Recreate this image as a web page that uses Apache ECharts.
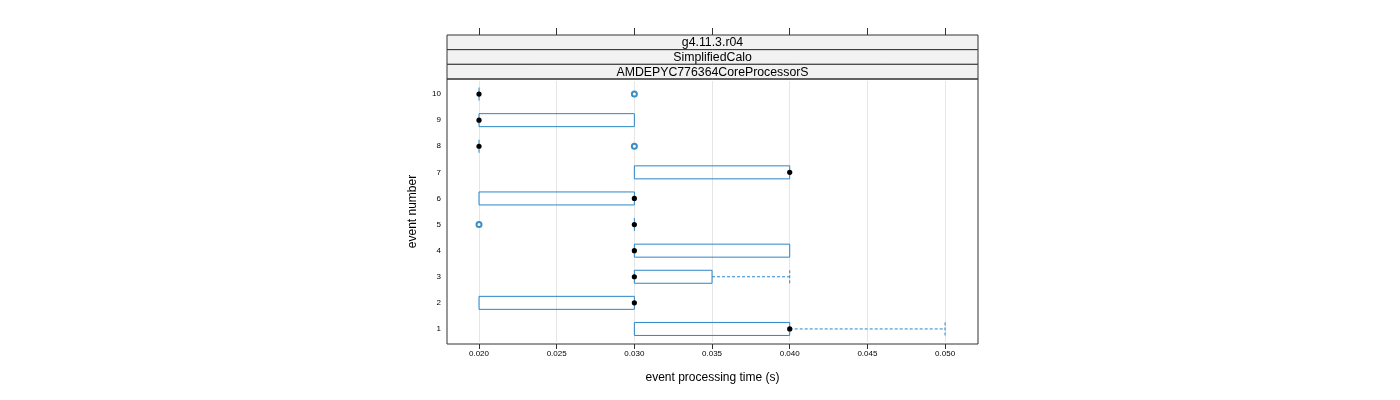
<!DOCTYPE html>
<html>
<head>
<meta charset="utf-8">
<script src="https://cdn.jsdelivr.net/npm/echarts@6/dist/echarts.min.js"></script>
<style>
  html, body { margin: 0; padding: 0; background: #fff; }
  #chart { width: 1400px; height: 400px; }
</style>
</head>
<body>
<div id="chart"></div>
<script>
    // event numbers on the y axis
    var events = ['1', '2', '3', '4', '5', '6', '7', '8', '9', '10'];
    // box statistics per event (seconds)
    var whiskerLow  = [0.030, 0.020, 0.030, 0.030, 0.030, 0.020, 0.030, 0.020, 0.020, 0.020];
    var lowerQ      = [0.030, 0.020, 0.030, 0.030, 0.030, 0.020, 0.030, 0.020, 0.020, 0.020];
    var medians     = [0.040, 0.030, 0.030, 0.030, 0.030, 0.030, 0.040, 0.020, 0.020, 0.020];
    var upperQ      = [0.040, 0.030, 0.035, 0.040, 0.030, 0.030, 0.040, 0.020, 0.030, 0.020];
    var whiskerHigh = [0.050, 0.030, 0.040, 0.040, 0.030, 0.030, 0.040, 0.020, 0.030, 0.020];
    // outliers: [time, event]
    var outliers = [[0.020, '5'], [0.030, '8'], [0.030, '10']];
    var tickValues = [0.020, 0.025, 0.030, 0.035, 0.040, 0.045, 0.050];
    var stripLabels = ['g4.11.3.r04', 'SimplifiedCalo', 'AMDEPYC776364CoreProcessorS'];

    var boxColor = '#2b86c8';
    var outlierColor = '#0b72b8';

    // panel box
    var P = { left: 447, right: 978, top: 79, bottom: 344 };
    var stripH = 14.67;

    var boxData = [];
    for (var i = 0; i < events.length; i++) {
        boxData.push([i, whiskerLow[i], lowerQ[i], medians[i], upperQ[i], whiskerHigh[i]]);
    }

    function renderBox(params, api) {
        var yi = api.value(0);
        var lo = api.coord([api.value(1), yi]);
        var q1 = api.coord([api.value(2), yi]);
        var md = api.coord([api.value(3), yi]);
        var q3 = api.coord([api.value(4), yi]);
        var hi = api.coord([api.value(5), yi]);
        var cy = md[1];
        var h = 6.5;
        var children = [];
        var solid = { stroke: boxColor, fill: null, lineWidth: 1 };
        var dashed = { stroke: boxColor, fill: null, lineWidth: 1, lineDash: [3, 2] };
        if (q3[0] - q1[0] > 0.5) {
            children.push({ type: 'rect', shape: { x: q1[0], y: cy - h, width: q3[0] - q1[0], height: 2 * h }, style: solid });
        } else {
            children.push({ type: 'line', shape: { x1: q1[0], y1: cy - h, x2: q1[0], y2: cy + h }, style: solid });
        }
        if (q1[0] - lo[0] > 0.5) {
            children.push({ type: 'line', shape: { x1: lo[0], y1: cy, x2: q1[0], y2: cy }, style: dashed });
            children.push({ type: 'line', shape: { x1: lo[0], y1: cy - h, x2: lo[0], y2: cy + h }, style: dashed });
        }
        if (hi[0] - q3[0] > 0.5) {
            children.push({ type: 'line', shape: { x1: q3[0], y1: cy, x2: hi[0], y2: cy }, style: dashed });
            children.push({ type: 'line', shape: { x1: hi[0], y1: cy - h, x2: hi[0], y2: cy + h }, style: dashed });
        }
        children.push({ type: 'circle', shape: { cx: md[0], cy: cy, r: 2.6 }, style: { fill: '#000' } });
        return { type: 'group', children: children };
    }

    var graphics = [];
    for (var s = 0; s < stripLabels.length; s++) {
        graphics.push({
            type: 'rect',
            shape: { x: P.left, y: 35 + s * stripH, width: P.right - P.left, height: stripH },
            style: { fill: '#f2f2f2', stroke: '#333', lineWidth: 1 }
        });
        graphics.push({
            type: 'text',
            x: (P.left + P.right) / 2, y: 35 + s * stripH + stripH / 2 + 0.5,
            style: { text: stripLabels[s], fill: '#000', font: '12.3px "Liberation Sans", Arial, sans-serif', align: 'center', verticalAlign: 'middle' }
        });
    }
    graphics.push({
        type: 'rect',
        shape: { x: P.left, y: P.top, width: P.right - P.left, height: P.bottom - P.top },
        style: { fill: null, stroke: '#333', lineWidth: 1 },
        z: 10
    });

    var chart = echarts.init(document.getElementById('chart'));
    chart.setOption({
        animation: false,
        textStyle: { fontFamily: '"Liberation Sans", Arial, sans-serif' },
        grid: { left: P.left, right: 1400 - P.right, top: 81, bottom: 58 },
        graphic: graphics,
        xAxis: [{
            type: 'value',
            position: 'bottom',
            min: 0.01794,
            max: 0.05212,
            offset: 2,
            axisLine: { show: false },
            axisTick: { show: true, customValues: tickValues, length: 5, lineStyle: { color: '#333' } },
            axisLabel: { customValues: tickValues, fontSize: 8, color: '#000', margin: 6,
                formatter: function (v) { return v.toFixed(3); } },
            splitLine: { show: true, lineStyle: { color: '#e6e6e6', width: 1 } },
            name: 'event processing time (s)',
            nameLocation: 'middle',
            nameGap: 28,
            nameTextStyle: { fontSize: 12, color: '#000' }
        }, {
            type: 'value',
            position: 'top',
            min: 0.01794,
            max: 0.05212,
            offset: 46,
            axisLine: { show: false },
            axisTick: { show: true, customValues: tickValues, length: 7, lineStyle: { color: '#333' } },
            axisLabel: { show: false },
            splitLine: { show: false }
        }],
        yAxis: {
            type: 'category',
            data: events,
            axisLine: { show: false },
            axisTick: { show: false },
            axisLabel: { fontSize: 8, color: '#000', margin: 6 },
            splitLine: { show: false },
            name: 'event number',
            nameLocation: 'middle',
            nameGap: 28,
            nameRotate: 90,
            nameTextStyle: { fontSize: 12, color: '#000' }
        },
        series: [{
            type: 'custom',
            renderItem: renderBox,
            encode: { x: [1, 2, 3, 4, 5], y: 0 },
            data: boxData,
            z: 3
        }, {
            type: 'scatter',
            data: outliers,
            symbol: 'circle',
            symbolSize: 5,
            itemStyle: { color: '#fff', borderColor: outlierColor, borderWidth: 2 },
            z: 4
        }]
    });
</script>
</body>
</html>
